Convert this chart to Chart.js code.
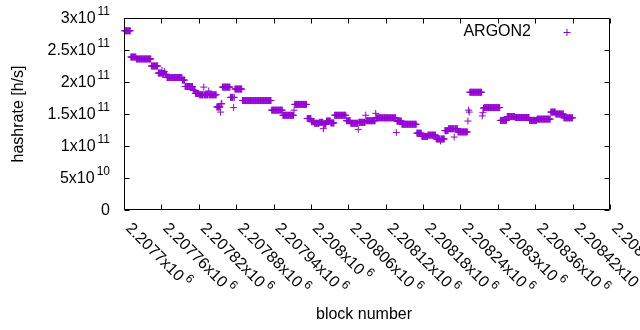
<!DOCTYPE html>
<html lang="en">
<head>
<meta charset="UTF-8">
<title>ARGON2 hashrate</title>
<script src="https://cdn.jsdelivr.net/npm/chart.js@4.4.1/dist/chart.umd.min.js"></script>
<style>
    html, body { margin: 0; padding: 0; background: #fff; }
    #wrap { width: 640px; height: 330px; }
</style>
</head>
<body>
<div id="wrap"><canvas id="hashChart" width="640" height="330"></canvas></div>
<script>
// block offsets are relative to blockBase; each run is a stretch of blocks at one hashrate
const blockBase = 2207700;
const runStart = [1, 11, 20, 44, 55, 61, 62, 65, 66, 69, 94, 98, 111, 115, 121, 128, 129, 136, 137,
    149, 155, 156, 158, 171, 176, 177, 178, 190, 237, 255, 273, 274, 294, 301, 306, 314, 320, 321,
    325, 332, 338, 357, 364, 376, 377, 388, 389, 404, 405, 437, 438, 446, 470, 478, 488, 501, 508,
    509, 515, 521, 530, 531, 536, 552, 553, 554, 555, 575, 576, 577, 578, 604, 615, 628, 651, 663,
    685, 693, 706];
const runEnd = [10, 19, 43, 54, 60, 61, 64, 65, 68, 93, 97, 110, 114, 120, 127, 128, 135, 136, 148,
    154, 155, 157, 170, 175, 176, 177, 189, 236, 254, 272, 273, 293, 300, 305, 313, 319, 320, 324,
    331, 337, 356, 363, 375, 376, 387, 388, 403, 404, 436, 437, 445, 469, 477, 487, 500, 507, 508,
    514, 520, 529, 530, 535, 551, 552, 553, 554, 574, 575, 576, 577, 603, 614, 627, 650, 662, 684,
    692, 705, 720];
const runHash = [2.80e11, 2.39e11, 2.36e11, 2.25e11, 2.14e11, 2.18e11, 2.12e11, 2.16e11, 2.12e11,
    2.07e11, 2.03e11, 1.93e11, 1.87e11, 1.82e11, 1.80e11, 1.92e11, 1.80e11, 1.86e11, 1.80e11,
    1.61e11, 1.53e11, 1.66e11, 1.92e11, 1.76e11, 1.60e11, 1.76e11, 1.89e11, 1.71e11, 1.56e11,
    1.48e11, 1.56e11, 1.65e11, 1.43e11, 1.38e11, 1.355e11, 1.37e11, 1.27e11, 1.34e11, 1.39e11,
    1.36e11, 1.48e11, 1.395e11, 1.355e11, 1.26e11, 1.37e11, 1.48e11, 1.395e11, 1.51e11, 1.44e11,
    1.21e11, 1.39e11, 1.34e11, 1.20e11, 1.15e11, 1.17e11, 1.11e11, 1.08e11, 1.11e11, 1.24e11,
    1.27e11, 1.14e11, 1.27e11, 1.22e11, 1.39e11, 1.56e11, 1.53e11, 1.84e11, 1.47e11, 1.52e11,
    1.59e11, 1.60e11, 1.40e11, 1.46e11, 1.445e11, 1.40e11, 1.42e11, 1.53e11, 1.50e11, 1.44e11];

const xTicks = [2207700, 2207760, 2207820, 2207880, 2207940, 2208000, 2208060,
    2208120, 2208180, 2208240, 2208300, 2208360, 2208420, 2208480];
const yTicks = [0, 5e10, 1e11, 1.5e11, 2e11, 2.5e11, 3e11];
const seriesName = 'ARGON2';
const xTitle = 'block number';
const yTitle = 'hashrate [h/s]';
const purple = '#9400d3';

const points = [];
for (let i = 0; i < runStart.length; i++) {
    for (let b = runStart[i]; b <= runEnd[i]; b++) {
        points.push({ x: blockBase + b, y: runHash[i] });
    }
}

const FONT = '"Liberation Sans", Arial, sans-serif';

// "2.2077x10" + "6" style labels, like gnuplot's enhanced text
function sciParts(v) {
    if (v === 0) return ['0', ''];
    const e = Math.floor(Math.log10(v) + 1e-9);
    const m = parseFloat((v / Math.pow(10, e)).toPrecision(6));
    return [m + 'x10', String(e)];
}

const gnuplotFrame = {
    id: 'gnuplotFrame',
    afterDraw(chart) {
        const ctx = chart.ctx;
        const { left, right, top, bottom } = chart.chartArea;
        const xs = chart.scales.x, ys = chart.scales.y;
        const L = Math.round(left) + 0.5, R = Math.round(right) - 0.5;
        const T = Math.round(top) + 0.5, B = Math.round(bottom) - 0.5;
        const tl = 5;
        ctx.save();
        ctx.strokeStyle = '#000';
        ctx.lineWidth = 1;
        ctx.beginPath();
        ctx.rect(L, T, R - L, B - T);
        xTicks.forEach(v => {
            const px = Math.round(xs.getPixelForValue(v)) + 0.5;
            ctx.moveTo(px, B); ctx.lineTo(px, B - tl);
            ctx.moveTo(px, T); ctx.lineTo(px, T + tl);
        });
        yTicks.forEach(v => {
            const py = Math.round(ys.getPixelForValue(v)) + 0.5;
            ctx.moveTo(L, py); ctx.lineTo(L + tl, py);
            ctx.moveTo(R, py); ctx.lineTo(R - tl, py);
        });
        ctx.stroke();

        ctx.fillStyle = '#000';
        // y tick labels, right-justified
        yTicks.forEach(v => {
            const [main, sup] = sciParts(v);
            const py = ys.getPixelForValue(v);
            ctx.font = '16px ' + FONT;
            const wm = ctx.measureText(main).width;
            ctx.font = '12px ' + FONT;
            const ws = sup ? ctx.measureText(sup).width + 2 : 0;
            const x0 = left - 14 - wm - ws;
            ctx.textAlign = 'left';
            ctx.textBaseline = 'middle';
            ctx.font = '16px ' + FONT;
            ctx.fillText(main, x0, py + 1);
            if (sup) {
                ctx.font = '12px ' + FONT;
                ctx.fillText(sup, x0 + wm + 2, py - 6);
            }
        });
        // x tick labels, rotated by -45 degrees
        xTicks.forEach(v => {
            const [main, sup] = sciParts(v);
            const px = xs.getPixelForValue(v);
            ctx.save();
            ctx.translate(px + 4, bottom + 16);
            ctx.rotate(Math.PI / 4);
            ctx.textAlign = 'left';
            ctx.textBaseline = 'middle';
            ctx.font = '16px ' + FONT;
            ctx.fillText(main, 0, 0);
            const wm = ctx.measureText(main).width;
            ctx.font = '12px ' + FONT;
            ctx.fillText(sup, wm + 3, -6);
            ctx.restore();
        });

        // axis titles
        ctx.font = '16px ' + FONT;
        ctx.textAlign = 'center';
        ctx.textBaseline = 'middle';
        ctx.fillText(xTitle, (left + right) / 2 - 3, 315);
        ctx.save();
        ctx.translate(19, (top + bottom) / 2);
        ctx.rotate(-Math.PI / 2);
        ctx.fillText(yTitle, 0, 0);
        ctx.restore();

        // key
        ctx.textAlign = 'right';
        ctx.fillText(seriesName, 531, 32);
        ctx.strokeStyle = purple;
        ctx.beginPath();
        ctx.moveTo(563.5, 32.5); ctx.lineTo(570.5, 32.5);
        ctx.moveTo(567, 29); ctx.lineTo(567, 36);
        ctx.stroke();
        ctx.restore();
    }
};

new Chart(document.getElementById('hashChart'), {
    type: 'scatter',
    data: {
        datasets: [{
            label: seriesName,
            data: points,
            pointStyle: 'cross',
            pointRadius: 3.5,
            pointHoverRadius: 3.5,
            borderWidth: 1,
            borderColor: purple,
            backgroundColor: purple,
            clip: false
        }]
    },
    options: {
        responsive: false,
        animation: false,
        devicePixelRatio: 1,
        layout: { padding: { left: 0, right: 30, top: 18, bottom: 0 } },
        plugins: { legend: { display: false }, tooltip: { enabled: false } },
        scales: {
            x: {
                type: 'linear',
                min: 2207700,
                max: 2208480,
                afterBuildTicks: s => { s.ticks = xTicks.map(v => ({ value: v })); },
                afterFit: s => { s.height = 120; },
                ticks: { display: false },
                grid: { display: false },
                border: { display: false }
            },
            y: {
                min: 0,
                max: 3e11,
                afterBuildTicks: s => { s.ticks = yTicks.map(v => ({ value: v })); },
                afterFit: s => { s.width = 124; },
                ticks: { display: false },
                grid: { display: false },
                border: { display: false }
            }
        }
    },
    plugins: [gnuplotFrame]
});
</script>
</body>
</html>
